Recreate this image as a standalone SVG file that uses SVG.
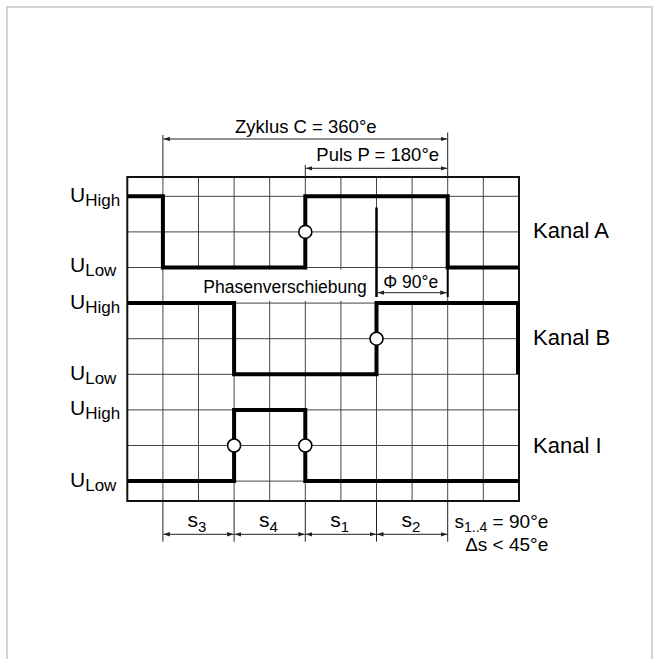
<svg xmlns="http://www.w3.org/2000/svg" width="660" height="659" viewBox="0 0 660 659">
<style>
text{font-family:"Liberation Sans",Arial,sans-serif;fill:#000}
.grid{stroke:#444;stroke-width:1;fill:none}
.sig{stroke:#000;stroke-width:4;fill:none;stroke-linejoin:miter}
.dim{stroke:#222;stroke-width:1;fill:none}
.ext{stroke:#222;stroke-width:1}
.pt{fill:#fff;stroke:#000;stroke-width:1.6}
.u{font-size:21px}
.us{font-size:17px}
.k{font-size:22px}
.t{font-size:18.5px}
.s{font-size:21px}
.ss{font-size:15px}
</style>
<defs>
<marker id="ah" markerUnits="userSpaceOnUse" markerWidth="7" markerHeight="5" refX="6.5" refY="2.5" orient="auto-start-reverse">
<path d="M0,0.3 L6.5,2.5 L0,4.7 z" fill="#222"/>
</marker>
</defs>
<rect x="7" y="7" width="645" height="670" fill="#fff" stroke="#d4d4d4" stroke-width="2"/>

<g id="grid">
<path class="grid" d="M162.9,177V501M198.5,177V501M234.1,177V501M269.7,177V501M305.3,177V501M340.9,177V501M376.5,177V501M412.1,177V501M447.7,177V501M483.3,177V501"/>
<path class="grid" d="M127.3,196.3H519M127.3,231.9H519M127.3,267.5H519M127.3,303.1H519M127.3,338.7H519M127.3,374.3H519M127.3,409.9H519M127.3,445.5H519M127.3,481.1H519"/>
<rect x="196" y="269.5" width="250" height="31.5" fill="#fff"/>
<rect x="127.3" y="177" width="391.7" height="324" fill="none" stroke="#111" stroke-width="2"/>
</g>

<g id="connectors">
<path class="ext" d="M162.9,135V177M305.3,165V177M447.7,132.5V177"/>
<path class="ext" d="M162.9,501V541.7M234.1,501V541.7M305.3,501V541.7M376.5,501V541.7M447.7,501V541.7"/>
<path class="dim" d="M163.4,139H447.2" marker-start="url(#ah)" marker-end="url(#ah)"/>
<path class="dim" d="M305.8,168.3H447.2" marker-start="url(#ah)" marker-end="url(#ah)"/>
<path class="dim" d="M377.8,292.7H446.7" marker-start="url(#ah)" marker-end="url(#ah)"/>
<path class="dim" d="M163.4,534.3H233.6" marker-start="url(#ah)" marker-end="url(#ah)"/>
<path class="dim" d="M234.6,534.3H304.8" marker-start="url(#ah)" marker-end="url(#ah)"/>
<path class="dim" d="M305.8,534.3H376" marker-start="url(#ah)" marker-end="url(#ah)"/>
<path class="dim" d="M377,534.3H447.2" marker-start="url(#ah)" marker-end="url(#ah)"/>
<path d="M376.5,207.5V297" stroke="#000" stroke-width="2.5"/>
<path d="M447.7,268V297" stroke="#000" stroke-width="2"/>
</g>

<g id="kanal-a">
<path class="sig" d="M127.3,196.3H162.9V267.5H305.3V196.3H447.7V267.5H519"/>
<circle class="pt" cx="305.3" cy="231.9" r="6.5"/>
</g>
<g id="kanal-b">
<path class="sig" d="M127.3,303.1H234.1V374.3H376.5V303.1H518V374.3"/>
<circle class="pt" cx="376.5" cy="338.7" r="6.5"/>
</g>
<g id="kanal-i">
<path class="sig" d="M127.3,481.1H234.1V409.9H305.3V481.1H519"/>
<circle class="pt" cx="234.1" cy="445.5" r="6.5"/>
<circle class="pt" cx="305.3" cy="445.5" r="6.5"/>
</g>

<g id="levels">
<text x="70" y="201.7" class="u">U<tspan class="us" dy="4">High</tspan></text>
<text x="70" y="272" class="u">U<tspan class="us" dy="4">Low</tspan></text>
<text x="70" y="308.6" class="u">U<tspan class="us" dy="4">High</tspan></text>
<text x="70" y="379.8" class="u">U<tspan class="us" dy="4">Low</tspan></text>
<text x="70" y="415.4" class="u">U<tspan class="us" dy="4">High</tspan></text>
<text x="70" y="486.6" class="u">U<tspan class="us" dy="4">Low</tspan></text>
</g>

<g id="channel-labels">
<text x="533" y="238" class="k">Kanal A</text>
<text x="533" y="345" class="k">Kanal B</text>
<text x="533" y="452.5" class="k">Kanal I</text>
</g>

<g id="dimension-labels">
<text x="305.8" y="132.7" class="t" text-anchor="middle">Zyklus C = 360°e</text>
<text x="377.7" y="160.7" class="t" text-anchor="middle">Puls P = 180°e</text>
<text x="203.3" y="293.3" style="font-size:17.5px">Phasenverschiebung</text>
<text x="383.3" y="288.3" style="font-size:17.5px">Φ 90°e</text>
<text x="197" y="527" text-anchor="middle" class="s">s<tspan dy="4.5" class="ss">3</tspan></text>
<text x="268.5" y="527" text-anchor="middle" class="s">s<tspan dy="4.5" class="ss">4</tspan></text>
<text x="339.7" y="527" text-anchor="middle" class="s">s<tspan dy="4.5" class="ss">1</tspan></text>
<text x="411" y="527" text-anchor="middle" class="s">s<tspan dy="4.5" class="ss">2</tspan></text>
<text x="548.3" y="528" text-anchor="end" style="font-size:19px">s<tspan dy="4" style="font-size:14px">1..4</tspan><tspan dy="-4"> = 90°e</tspan></text>
<text x="548.3" y="551" text-anchor="end" style="font-size:19px">Δs &lt; 45°e</text>
</g>
</svg>
